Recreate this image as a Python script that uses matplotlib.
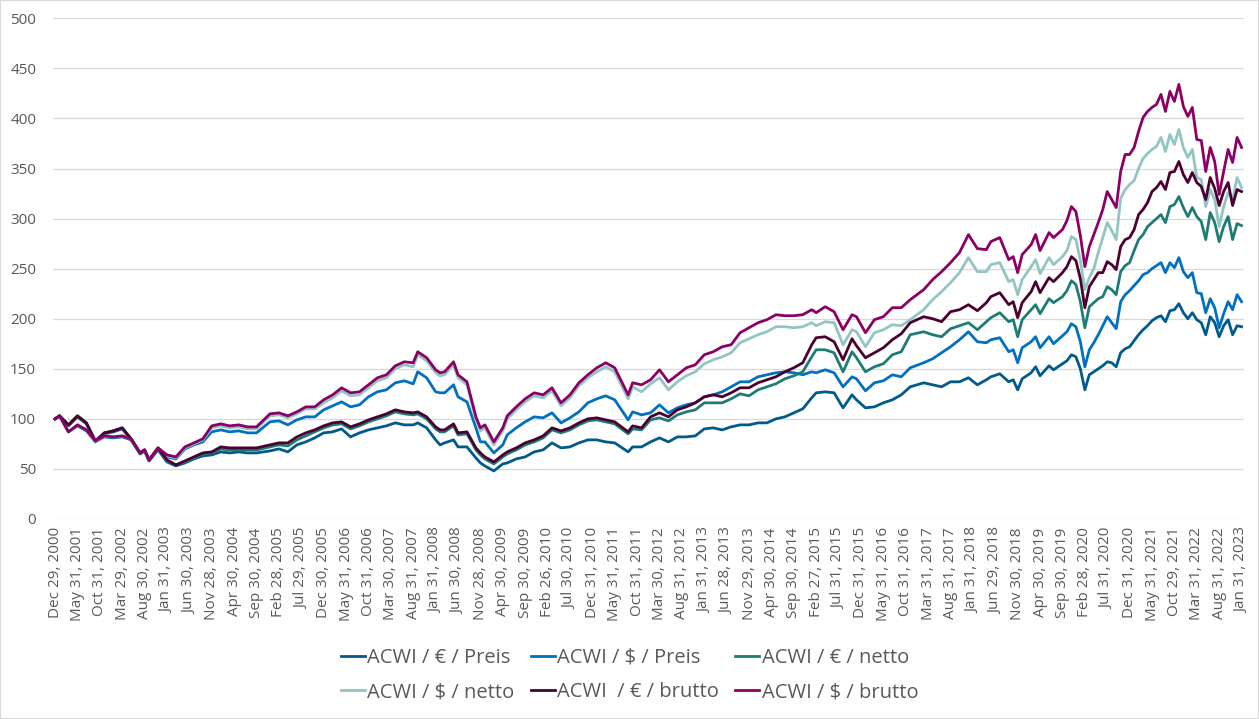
import matplotlib
matplotlib.use("Agg")
import matplotlib.pyplot as plt
from matplotlib.patches import Rectangle

plt.rcParams['font.family'] = ['Open Sans', 'DejaVu Sans']

# month-end values (index, Dec 2000 = 100)
months = [
    "2000-12", "2001-01", "2001-03", "2001-05", "2001-07", "2001-09", "2001-11",
    "2002-01", "2002-03", "2002-05", "2002-07", "2002-08", "2002-09", "2002-11",
    "2003-01", "2003-03", "2003-05", "2003-07", "2003-09", "2003-11",
    "2004-01", "2004-03", "2004-05", "2004-07", "2004-09", "2004-12",
    "2005-02", "2005-04", "2005-06", "2005-08", "2005-10", "2005-12",
    "2006-02", "2006-04", "2006-06", "2006-08", "2006-10", "2006-12",
    "2007-02", "2007-04", "2007-06", "2007-08", "2007-09", "2007-11",
    "2008-01", "2008-02", "2008-03", "2008-05", "2008-06", "2008-08", "2008-10", "2008-11", "2008-12",
    "2009-02", "2009-04", "2009-05", "2009-07", "2009-09", "2009-11",
    "2010-01", "2010-03", "2010-05", "2010-07", "2010-09", "2010-11",
    "2011-01", "2011-03", "2011-05", "2011-08", "2011-09", "2011-11",
    "2012-01", "2012-03", "2012-05", "2012-07", "2012-09", "2012-11",
    "2013-01", "2013-03", "2013-05", "2013-07", "2013-09", "2013-11",
    "2014-01", "2014-03", "2014-05", "2014-07", "2014-09", "2014-11",
    "2015-01", "2015-02", "2015-04", "2015-06", "2015-08", "2015-10", "2015-11",
    "2016-01", "2016-03", "2016-05", "2016-07", "2016-09", "2016-11",
    "2017-02", "2017-04", "2017-06", "2017-08", "2017-10", "2017-12",
    "2018-02", "2018-04", "2018-05", "2018-07", "2018-09", "2018-10", "2018-11", "2018-12",
    "2019-02", "2019-03", "2019-04", "2019-06", "2019-07", "2019-09", "2019-10", "2019-11", "2019-12",
    "2020-01", "2020-02", "2020-03", "2020-04", "2020-05", "2020-06", "2020-07", "2020-08",
    "2020-09", "2020-10", "2020-11", "2020-12",
    "2021-01", "2021-02", "2021-03", "2021-04", "2021-05", "2021-06", "2021-07", "2021-08",
    "2021-09", "2021-10", "2021-11", "2021-12",
    "2022-01", "2022-02", "2022-03", "2022-04", "2022-05", "2022-06", "2022-07", "2022-08",
    "2022-09", "2022-10", "2022-11", "2022-12",
    "2023-01",
]

eur_preis = [
    100, 103, 93, 102, 95, 77, 85,
    87, 90, 79, 65, 68, 58, 69,
    57, 53, 56, 60, 63, 64,
    67, 66, 67, 66, 66, 68,
    70, 67, 74, 77, 81, 86,
    87, 90, 82, 86, 89, 91,
    93, 96, 94, 94, 96, 91,
    79, 74, 76, 79, 72, 72, 61, 56, 53,
    48, 55, 56, 60, 62, 67,
    69, 76, 71, 72, 76, 79,
    79, 77, 76, 67, 72, 72,
    77, 81, 77, 82, 82, 83,
    90, 91, 89, 92, 94, 94,
    96, 96, 100, 102, 106, 110,
    121, 126, 127, 126, 111, 124, 119,
    111, 112, 116, 119, 124, 132,
    136, 134, 132, 137, 137, 141,
    134, 139, 142, 145, 137, 139, 129, 140,
    146, 152, 143, 153, 149, 155, 158, 164, 162,
    150, 129, 144, 147, 150, 153, 157, 156, 152, 166, 170, 172,
    178, 184, 189, 193, 198, 201, 203, 197, 208, 209, 215, 206,
    200, 206, 199, 196, 184, 202, 196, 182, 193, 199, 184, 193,
    192,
]

usd_preis = [
    100, 103, 87, 93, 88, 77, 82,
    81, 82, 79, 65, 68, 58, 70,
    62, 60, 70, 74, 77, 87,
    89, 87, 88, 86, 86, 97,
    98, 94, 99, 102, 102, 109,
    113, 117, 112, 114, 122, 127,
    129, 136, 138, 135, 147, 141,
    127, 126, 126, 134, 122, 117, 91, 77, 77,
    66, 74, 84, 91, 97, 102,
    101, 106, 96, 101, 107, 116,
    120, 123, 119, 99, 107, 104,
    106, 114, 106, 111, 114, 116,
    122, 124, 127, 132, 137, 137,
    142, 144, 146, 147, 146, 144,
    147, 146, 149, 146, 132, 142, 140,
    128, 136, 138, 144, 142, 151,
    156, 160, 166, 172, 179, 187,
    177, 176, 179, 181, 167, 169, 156, 171,
    177, 182, 171, 182, 175, 183, 187, 195, 192,
    177, 152, 169, 176, 184, 193, 202, 196, 190, 217, 224, 228,
    233, 238, 244, 246, 250, 253, 256, 246, 256, 251, 261, 247,
    241, 246, 226, 225, 206, 220, 211, 191, 205, 217, 209, 224,
    217,
]

eur_netto = [
    100, 103, 94, 103, 96, 77, 86,
    88, 91, 80, 66, 69, 59, 70,
    58, 54, 57, 61, 65, 66,
    70, 69, 69, 69, 69, 72,
    74, 73, 79, 83, 87, 91,
    94, 95, 90, 93, 97, 100,
    103, 107, 105, 104, 105, 100,
    90, 87, 87, 93, 84, 85, 69, 64, 60,
    55, 62, 65, 69, 74, 77,
    81, 89, 86, 89, 94, 98,
    99, 97, 95, 85, 90, 89,
    99, 101, 98, 104, 107, 109,
    116, 116, 116, 120, 125, 123,
    129, 132, 135, 140, 143, 147,
    162, 169, 169, 166, 147, 167, 161,
    147, 152, 155, 164, 167, 184,
    187, 184, 182, 190, 193, 196,
    189, 197, 201, 206, 197, 199, 182, 199,
    209, 214, 205, 220, 216, 222, 228, 238, 234,
    217, 191, 212, 216, 220, 222, 232, 229, 224, 247, 253, 256,
    268, 279, 284, 292, 296, 300, 304, 296, 312, 314, 322, 311,
    302, 311, 302, 297, 279, 306, 296, 277, 292, 302, 279, 295,
    293,
]

usd_netto = [
    100, 103, 87, 94, 89, 77, 83,
    82, 83, 80, 66, 69, 59, 71,
    63, 61, 71, 75, 79, 91,
    93, 91, 92, 90, 90, 103,
    104, 101, 105, 110, 110, 116,
    121, 128, 123, 124, 131, 138,
    141, 150, 154, 152, 164, 158,
    146, 143, 144, 154, 141, 134, 99, 88, 91,
    74, 88, 100, 109, 117, 123,
    121, 128, 113, 121, 133, 141,
    147, 152, 147, 120, 132, 127,
    135, 141, 129, 137, 143, 147,
    155, 159, 162, 166, 176, 180,
    184, 187, 192, 192, 191, 192,
    196, 193, 197, 196, 174, 189, 187,
    172, 186, 189, 194, 193, 199,
    209, 219, 227, 236, 246, 261,
    247, 247, 254, 256, 237, 239, 224, 239,
    252, 259, 245, 261, 254, 262, 268, 282, 279,
    258, 229, 241, 250, 266, 281, 296, 288, 279, 320, 329, 334,
    338, 350, 360, 365, 369, 372, 381, 367, 384, 374, 389, 371,
    361, 369, 341, 339, 312, 329, 319, 292, 312, 326, 319, 341,
    331,
]

eur_brutto = [
    100, 103, 94, 103, 96, 78, 86,
    88, 91, 80, 66, 69, 59, 71,
    59, 54, 58, 62, 66, 67,
    72, 71, 71, 71, 71, 74,
    76, 76, 82, 86, 89, 93,
    96, 97, 92, 95, 99, 102,
    105, 109, 107, 106, 107, 102,
    92, 89, 89, 95, 86, 87, 71, 66, 62,
    57, 64, 67, 71, 76, 79,
    83, 91, 88, 91, 96, 100,
    101, 99, 97, 87, 93, 91,
    102, 106, 102, 109, 112, 116,
    122, 124, 122, 126, 131, 131,
    136, 139, 142, 147, 151, 156,
    174, 181, 182, 177, 159, 180, 173,
    161, 166, 171, 179, 185, 196,
    202, 200, 197, 207, 209, 214,
    208, 216, 222, 226, 214, 217, 201, 216,
    227, 237, 226, 241, 237, 246, 252, 262, 258,
    240, 211, 232, 239, 246, 246, 257, 254, 249, 272, 279, 281,
    289, 304, 309, 316, 327, 331, 337, 329, 346, 347, 357, 344,
    336, 346, 336, 332, 319, 341, 330, 313, 327, 336, 313, 329,
    327,
]

usd_brutto = [
    100, 103, 87, 94, 89, 78, 83,
    82, 83, 80, 66, 69, 59, 71,
    64, 62, 72, 76, 80, 93,
    95, 93, 94, 92, 92, 105,
    106, 103, 107, 112, 112, 119,
    124, 131, 126, 127, 134, 141,
    144, 153, 157, 156, 167, 161,
    149, 146, 147, 157, 144, 137, 102, 91, 94,
    77, 91, 103, 112, 120, 126,
    124, 131, 116, 124, 136, 144,
    151, 156, 151, 124, 136, 134,
    139, 149, 137, 144, 151, 154,
    164, 167, 172, 174, 186, 191,
    196, 199, 204, 203, 203, 204,
    209, 206, 212, 207, 189, 204, 202,
    186, 199, 202, 211, 211, 219,
    229, 239, 247, 256, 266, 284,
    270, 269, 277, 281, 259, 262, 246, 264,
    274, 284, 268, 286, 281, 289, 298, 312, 307,
    283, 252, 272, 284, 296, 309, 327, 319, 311, 347, 364, 364,
    371, 387, 401, 407, 411, 414, 424, 407, 427, 417, 434, 412,
    402, 411, 379, 378, 347, 371, 357, 324, 347, 369, 356, 381,
    371,
]

labels = ["ACWI / € / Preis", "ACWI / $ / Preis", "ACWI / € / netto",
          "ACWI / $ / netto", "ACWI  / € / brutto", "ACWI / $ / brutto"]
colors = ["#005a8c", "#0070c0", "#1f7c75", "#93c5c2", "#4c0030", "#8c0066"]

tick_labels = [
    "Dec 29, 2000", "May 31, 2001", "Oct 31, 2001", "Mar 29, 2002", "Aug 30, 2002",
    "Jan 31, 2003", "Jun 30, 2003", "Nov 28, 2003", "Apr 30, 2004", "Sep 30, 2004",
    "Feb 28, 2005", "Jul 29, 2005", "Dec 30, 2005", "May 31, 2006", "Oct 31, 2006",
    "Mar 30, 2007", "Aug 31, 2007", "Jan 31, 2008", "Jun 30, 2008", "Nov 28, 2008",
    "Apr 30, 2009", "Sep 30, 2009", "Feb 26, 2010", "Jul 30, 2010", "Dec 31, 2010",
    "May 31, 2011", "Oct 31, 2011", "Mar 30, 2012", "Aug 31, 2012", "Jan 31, 2013",
    "Jun 28, 2013", "Nov 29, 2013", "Apr 30, 2014", "Sep 30, 2014", "Feb 27, 2015",
    "Jul 31, 2015", "Dec 31, 2015", "May 31, 2016", "Oct 31, 2016", "Mar 31, 2017",
    "Aug 31, 2017", "Jan 31, 2018", "Jun 29, 2018", "Nov 30, 2018", "Apr 30, 2019",
    "Sep 30, 2019", "Feb 28, 2020", "Jul 31, 2020", "Dec 31, 2020", "May 31, 2021",
    "Oct 29, 2021", "Mar 31, 2022", "Aug 31, 2022", "Jan 31, 2023",
]


def month_pos(s):
    # category index: months since Dec 2000
    y, m = s.split("-")
    return (int(y) - 2000) * 12 + int(m) - 12


x = [month_pos(s) for s in months]
all_series = [eur_preis, usd_preis, eur_netto, usd_netto, eur_brutto, usd_brutto]

W, H = 1259, 719
fig = plt.figure(figsize=(W / 100, H / 100), dpi=100)
fig.patches.append(Rectangle((0, 0), 1, 1, transform=fig.transFigure,
                             fill=False, edgecolor="#d9d9d9", lw=1.5))

ax = fig.add_axes([52.8 / W, 200 / H, 1191 / W, 500.7 / H])

lines = []
for vals, lab, c in zip(all_series, labels, colors):
    ln, = ax.plot(x, vals, color=c, lw=2.0, label=lab, solid_joinstyle="round")
    lines.append(ln)

ax.set_xlim(-0.5, 265.5)
ax.set_ylim(0, 500)
ax.set_yticks(range(0, 501, 50))
ax.set_xticks(range(0, 266, 5))
ax.set_xticklabels(tick_labels, rotation=90)
ax.grid(axis="y", color="#d9d9d9", lw=0.9)
ax.set_axisbelow(True)
for sp in ax.spines.values():
    sp.set_visible(False)
ax.tick_params(axis="both", length=0, labelcolor="#595959", labelsize=11)
ax.tick_params(axis="y", pad=12)
ax.tick_params(axis="x", pad=6)

order = [0, 3, 1, 4, 2, 5]
leg = fig.legend([lines[i] for i in order], [labels[i] for i in order],
                 loc="center", bbox_to_anchor=(0.5, 44 / H), ncol=3, frameon=False,
                 fontsize=14.5, handlelength=1.2, handletextpad=0.12,
                 columnspacing=0.8, labelspacing=0.72)
for t in leg.get_texts():
    t.set_color("#595959")

fig.savefig("out.png", dpi=100)
